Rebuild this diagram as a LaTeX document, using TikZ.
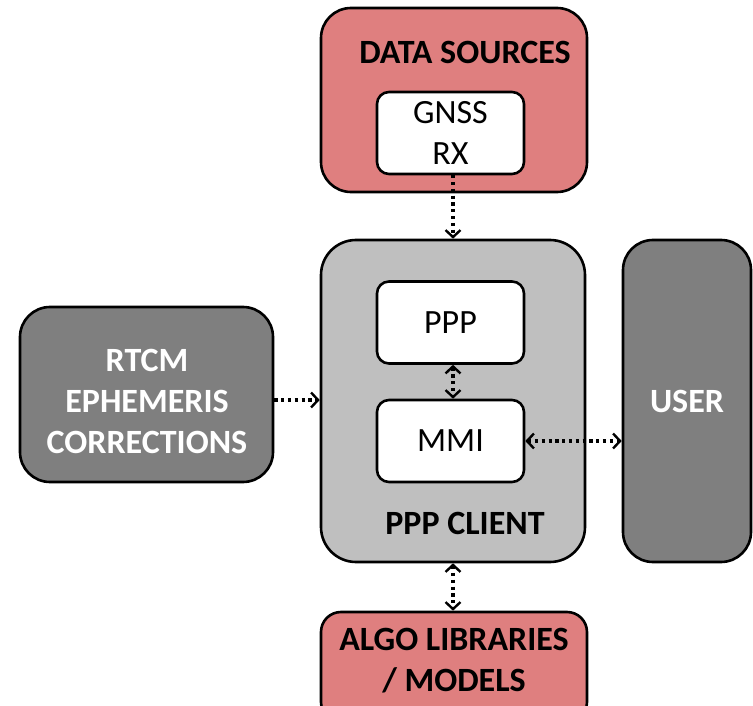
\documentclass[tikz,border=0pt]{standalone}
\usepackage{fontspec}
\setmainfont{Carlito}
\usetikzlibrary{arrows.meta}
\definecolor{srcred}{RGB}{223,127,127}
\definecolor{clientgray}{RGB}{191,191,191}
\definecolor{darkgray}{RGB}{127,127,127}

\begin{document}
\begin{tikzpicture}[x=1pt,y=-1pt,
    outer/.style={draw=black,line width=2.6pt,rounded corners=30pt,inner sep=0pt},
    inner/.style={draw=black,fill=white,line width=2.6pt,rounded corners=12pt,
      minimum width=147pt,minimum height=82pt,align=center,font=\fontsize{34}{41}\selectfont},
    title/.style={font=\bfseries\fontsize{34}{41}\selectfont,align=center},
    link/.style={line width=3.2pt,dash pattern=on 3.2pt off 3.6pt,
      {Straight Barb[length=7pt,width=15pt,line width=2.4pt]}-{Straight Barb[length=7pt,width=15pt,line width=2.4pt]}},
    feed/.style={line width=3.2pt,dash pattern=on 3.2pt off 3.6pt,
      -{Straight Barb[length=7pt,width=15pt,line width=2.4pt]}}]
  \useasboundingbox (0,0) rectangle (753,706);
  % outer blocks
  \node[outer,fill=srcred,minimum width=266pt,minimum height=184pt] (sources) at (454,100) {};
  \node[outer,fill=clientgray,minimum width=264pt,minimum height=322pt,rounded corners=35pt] (client) at (453,401) {};
  \node[outer,fill=darkgray,minimum width=253pt,minimum height=175pt] (rtcm) at (146.5,394.5) {};
  \node[outer,fill=darkgray,minimum width=128pt,minimum height=322pt] (user) at (687,401) {};
  \node[outer,fill=srcred,minimum width=266pt,minimum height=110pt,rounded corners=20pt] (algo) at (454,667) {};
  % titles
  \node[title,text=white] (rtcmtxt) at (147,401) {RTCM\\EPHEMERIS\\CORRECTIONS};
  \node[title,text=white] (usertxt) at (687,401) {USER};
  \node[title] (algotxt) at (454,661) {ALGO LIBRARIES\\/ MODELS};
  \node[title] (srctxt) at (465,52) {DATA SOURCES};
  \node[title] (clienttxt) at (465,523) {PPP CLIENT};
  % inner blocks
  \node[inner] (gnss) at (450.5,133) {GNSS\\RX};
  \node[inner] (ppp) at (450.5,322.5) {PPP};
  \node[inner] (mmi) at (450.5,441) {MMI};
  % links
  \draw[feed] (gnss.south -| 453,0) -- (client.north -| 453,0);
  \draw[feed] (rtcm.east |- 0,400) -- (client.west |- 0,400);
  \draw[link] (ppp.south -| 453,0) -- (mmi.north -| 453,0);
  \draw[link] (mmi.east) -- (user.west |- mmi.east);
  \draw[link] (client.south -| 453,0) -- (algo.north -| 453,0);
\end{tikzpicture}
\end{document}
